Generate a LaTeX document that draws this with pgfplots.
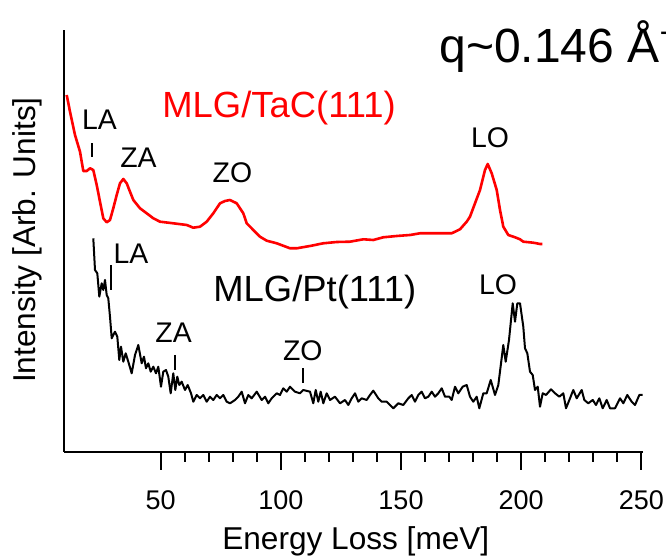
\documentclass[border=0pt]{standalone}
\usepackage{pgfplots}
\pgfplotsset{compat=1.18}
\usepackage{fontspec}
\setmainfont{Liberation Sans}
\begin{document}
\begin{tikzpicture}
\useasboundingbox (0,0) rectangle (333pt,278.5pt);
\clip (0,0) rectangle (333pt,278.5pt);
\begin{axis}[
  at={(32pt,52.5pt)}, anchor=south west,
  scale only axis, width=289.5pt, height=211pt,
  xmin=9.76, xmax=250.7, ymin=0, ymax=422,
  axis x line*=bottom, axis y line*=left,
  axis line style={line width=1pt},
  ytick=\empty,
  xtick={50,100,150,200,250},
  minor x tick num=4,
  tick align=outside,
  major tick length=9pt, minor tick length=5pt,
  every tick/.style={black, line width=1pt},
  /pgf/number format/assume math mode=true,
  xticklabel style={font=\fontsize{13.5}{16}\selectfont, anchor=base, yshift=-20pt},
  clip=false,
]
\addplot[red, line width=1.3pt, line join=round] coordinates {
(10.88,357) (12.26,340.3) (14.34,317) (16.42,300.3) (17.79,281) (19.21,281) (20.58,283.7) (21.95,282) (23.37,267) (24.74,250.3) (26.11,233.7) (27.53,229.7) (28.90,232) (30.27,243.7) (31.69,257) (33.06,268.7) (34.44,273) (35.85,268.7) (37.22,260.3) (38.60,252) (41.39,243.7) (44.17,238.7) (46.92,233.7) (49.71,230.3) (55.24,228.7) (60.82,227) (63.57,224.3) (66.35,225.3) (69.14,230.3) (71.89,238.7) (74.68,248.7) (76.76,251) (78.84,252) (81.63,248.7) (84.37,238.7) (85.79,228.7) (88.54,222) (91.32,215.3) (94.11,211.3) (98.27,208.7) (103.81,203.7) (106.60,203.7) (112.13,206) (117.67,208.7) (123.24,210) (128.78,210.3) (134.31,212.7) (138.47,212) (142.63,214.7) (148.21,216) (153.75,217) (157.91,218.7) (163.32,218.7) (171.10,218.7) (174.55,222.7) (177.34,230.3) (178.71,235.3) (180.80,248.7) (182.88,262) (184.96,282) (186.08,288) (187.74,278.7) (189.83,262) (191.20,242) (192.57,225.3) (194.65,217) (197.44,214.7) (199.52,212.7) (200.89,210.3) (205.06,209.3) (207.84,208) (208.80,208)
};
\addplot[black, line width=1pt, line join=round] coordinates {
(21.95,213.7) (22.66,182) (23.62,178.7) (24.45,155.3) (25.45,168.7) (26.11,162) (26.82,172) (27.53,157) (28.19,153.7) (28.90,135.3) (29.61,113.7) (30.98,120.3) (31.94,115.3) (32.77,92) (33.48,105.3) (34.44,90.3) (35.43,98.7) (36.52,90.3) (37.93,78.7) (39.31,97) (40.68,107) (42.09,88.7) (43.05,95.3) (43.88,83.7) (44.84,88.7) (45.84,80.3) (46.92,85.3) (48.04,78.7) (49.00,85.3) (50.12,65.3) (51.08,80.3) (52.21,82) (53.16,75.3) (54.16,58.7) (55.24,78.7) (56.08,62) (56.91,75.3) (57.74,67) (58.74,70.3) (60.11,62) (61.24,67) (62.61,58.7) (63.57,50.3) (64.98,57) (66.35,53.7) (67.73,57) (69.14,50.3) (70.52,55.3) (71.89,52) (73.30,57) (74.68,53.7) (76.05,57) (77.47,50.3) (78.84,48.7) (80.92,52) (82.29,55.3) (83.71,60.3) (85.08,48.7) (86.45,57) (87.87,53.7) (89.95,60.3) (92.03,52) (93.40,55.3) (94.78,48.7) (96.19,53.7) (98.27,58.7) (99.65,57) (101.02,63.7) (102.43,60.3) (103.81,65.3) (105.89,60.3) (107.97,58.7) (109.34,62) (112.13,60.3) (113.50,48.7) (114.50,62) (115.58,50.3) (116.58,60.3) (117.67,48.7) (119.08,58.7) (120.45,52) (122.53,55.3) (124.62,48.7) (126.70,52) (128.07,47) (129.48,53.7) (130.86,58.7) (132.23,50.3) (133.65,53.7) (135.73,52) (137.10,57) (138.47,61.3) (140.55,53.7) (141.97,50.3) (144.05,50.3) (146.80,43.7) (148.88,48.7) (150.96,47) (153.04,53.7) (154.45,57) (155.83,50.3) (157.20,57) (158.61,60.3) (159.99,53.7) (161.36,55.3) (162.78,60.3) (164.15,55.3) (165.52,58.7) (166.94,63.7) (168.31,55.3) (170.10,55.3) (171.10,52) (172.47,65.3) (173.85,58.7) (175.68,65.3) (177.34,67) (178.71,55.3) (180.09,50.3) (181.50,55.3) (182.58,43.7) (184.25,58.7) (185.66,58.7) (187.33,72) (189.12,57) (190.49,67) (192.57,107) (193.57,90.3) (194.94,112) (196.48,148.7) (197.44,130.3) (198.40,148.7) (199.52,148.7) (200.89,125.3) (201.60,103.7) (202.56,98.7) (203.68,80.3) (204.81,77) (205.76,62) (206.89,65.3) (207.84,45.3) (208.97,58.7) (210.34,57) (212.42,62.7) (214.09,58.7) (215.88,55.3) (217.54,58.7) (218.66,43.7) (220.33,53.7) (221.70,62) (223.12,53.7) (225.20,62) (226.28,52) (227.94,48.7) (229.78,52) (231.15,47) (232.52,53.7) (233.94,43.7) (235.60,52) (236.97,43.7) (239.05,43.7) (241.14,53.7) (242.51,48.7) (244.17,57) (246.00,50.3) (247.38,47) (249.17,57) (250.5,57)
};
% peak marks
\draw[black, line width=1pt] (axis cs:21.29,308.7) -- (axis cs:21.29,295.3);
\draw[black, line width=1pt] (axis cs:29.19,187) -- (axis cs:29.19,162);
\draw[black, line width=1pt] (axis cs:55.95,97) -- (axis cs:55.95,82);
\draw[black, line width=1pt] (axis cs:109.09,83.7) -- (axis cs:109.09,68.7);
% peak labels
\begin{scope}[every node/.style={font=\fontsize{14.2}{17}\selectfont, anchor=base west, inner sep=0pt}]
\node at (axis cs:17.12,322) {LA};
\node at (axis cs:33.06,284) {ZA};
\node at (axis cs:71.47,269.3) {ZO};
\node at (axis cs:179.0,304.3) {LO};
\node at (axis cs:30.27,188) {LA};
\node at (axis cs:47.63,109.3) {ZA};
\node at (axis cs:100.77,91) {ZO};
\node at (axis cs:182.33,157) {LO};
\end{scope}
\node[font=\fontsize{18.2}{22}\selectfont, anchor=base west, inner sep=0pt, red] at (axis cs:50.54,334) {MLG/TaC(111)};
\node[font=\fontsize{18.2}{22}\selectfont, anchor=base west, inner sep=0pt] at (axis cs:71.76,150) {MLG/Pt(111)};
\node[font=\fontsize{24}{28}\selectfont, anchor=base west, inner sep=0pt] at (axis cs:165.81,389) {q\textasciitilde 0.146 Å\textsuperscript{−1}};
% axis labels
\node[font=\fontsize{15.8}{19}\selectfont, rotate=90, anchor=base, inner sep=0pt] at (axis description cs:-0.050,0.502) {Intensity [Arb. Units]};
\node[font=\fontsize{15.8}{19}\selectfont, anchor=base, inner sep=0pt] at (axis description cs:0.504,-0.2322) {Energy Loss [meV]};
\end{axis}
\end{tikzpicture}
\end{document}
